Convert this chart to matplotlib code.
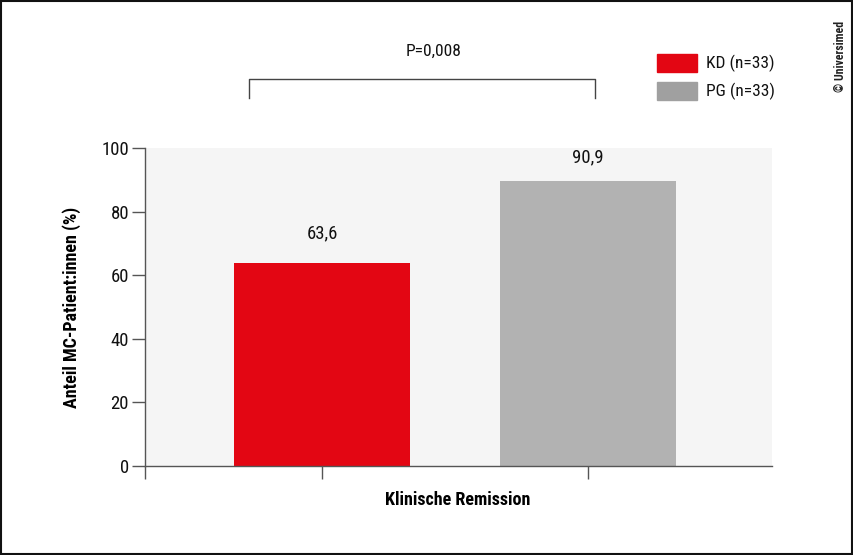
import matplotlib
matplotlib.use("Agg")
import matplotlib.pyplot as plt
from matplotlib.patches import Rectangle
from matplotlib.lines import Line2D
from matplotlib import font_manager

names = {f.name for f in font_manager.fontManager.ttflist}
fam = next((n for n in ["Roboto Condensed", "Liberation Sans Narrow", "Open Sans Condensed",
                        "Roboto", "Liberation Sans"] if n in names), "DejaVu Sans")
plt.rcParams['font.family'] = [fam, 'DejaVu Sans']

categories = ["KD (n=33)", "PG (n=33)"]
values = [63.7, 89.7]
value_labels = ["63,6", "90,9"]
bar_colors = ["#e30613", "#b2b2b2"]
legend_colors = ["#e30613", "#a0a0a0"]
yticks = [0, 20, 40, 60, 80, 100]
p_text = "P=0,008"
xlabel = "Klinische Remission"
ylabel = "Anteil MC-Patient:innen (%)"

W, H = 854, 555
fig = plt.figure(figsize=(W / 100, H / 100), dpi=100)
ax = fig.add_axes([145 / W, 1 - 466 / H, (772 - 145) / W, (466 - 148) / H])
ax.set_facecolor("#f5f5f5")

pos = [0, 1]
ax.bar(pos, values, width=0.66, color=bar_colors, zorder=2)
xmin, xmax = -0.665, 1.69
ax.set_xlim(xmin, xmax)
ax.set_ylim(0, 100)

offsets = [30, 23]
for p, v, lab, off in zip(pos, values, value_labels, offsets):
    ax.annotate(lab, (p, v), xytext=(0, off), textcoords="offset pixels",
                ha="center", va="center", fontsize=13.5, color="#111111")

spine_col = "#555555"
for s in ["top", "right"]:
    ax.spines[s].set_visible(False)
for s in ["left", "bottom"]:
    ax.spines[s].set_color(spine_col)
    ax.spines[s].set_linewidth(1.0)

ax.set_yticks(yticks)
ax.set_yticklabels([str(t) for t in yticks], fontsize=13.5, color="#111111")
ax.set_xticks([xmin, 0, 1])
ax.set_xticklabels(["", "", ""])
ax.tick_params(axis="both", length=9.5, width=1.0, color=spine_col, pad=3)
ax.tick_params(axis="y", pad=2)

ax.set_xlabel(xlabel, fontsize=13, fontweight="bold")
ax.set_ylabel(ylabel, fontsize=13, fontweight="bold")
ax.xaxis.set_label_coords((458 - 145) / (772 - 145), -(500 - 466) / (466 - 148))
ax.xaxis.label.set_va("center")
ax.yaxis.set_label_coords(-(145 - 72) / (772 - 145), (466 - 307) / (466 - 148))
ax.yaxis.label.set_va("center")

def fx(x):
    return x / W
def fy(y):
    return 1 - y / H

fig.add_artist(Line2D([fx(249), fx(249), fx(595), fx(595)],
                      [fy(98), fy(79), fy(79), fy(98)],
                      color="#444444", lw=1.0))
fig.text(fx(434), fy(51), p_text, ha="center", va="center", fontsize=12.5, color="#111111")

for i, (lab, col) in enumerate(zip(categories, legend_colors)):
    y0 = 54 + i * 28
    fig.add_artist(Rectangle((fx(657), fy(y0 + 18)), 40 / W, 18 / H, color=col,
                             transform=fig.transFigure))
    fig.text(fx(706), fy(y0 + 9), lab, ha="left", va="center", fontsize=12.5, color="#111111")

fig.text(fx(841), fy(56), "© Universimed", rotation=90, ha="center", va="center",
         fontsize=8.5, fontweight="bold", color="#222222")

fig.add_artist(Rectangle((0.001, 0.002), 0.997, 0.996, fill=False, ec="#111111", lw=1.5,
                         transform=fig.transFigure))

fig.savefig("out.png", dpi=100)
